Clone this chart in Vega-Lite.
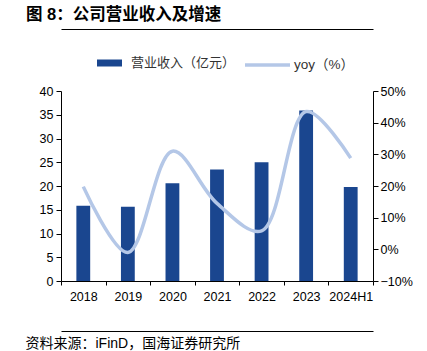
{
  "$schema": "https://vega.github.io/schema/vega-lite/v6.json",
  "width": 312,
  "height": 190,
  "autosize": "none",
  "padding": {"left": 61, "top": 91, "right": 54, "bottom": 70},
  "background": "white",
  "config": {
    "view": {"stroke": null},
    "axis": {"grid": false, "domainColor": "#000", "tickColor": "#000", "labelFont": "Liberation Sans", "labelFontSize": 12.5, "labelColor": "#000"}
  },
  "title": {
    "text": "图 8：公司营业收入及增速",
    "anchor": "start",
    "frame": "group",
    "dx": -35,
    "offset": 6,
    "font": "Liberation Sans, Noto Sans CJK SC",
    "fontSize": 16.5,
    "fontWeight": "bold",
    "color": "#000"
  },
  "data": {
    "values": [
      {"year": "2018", "revenue": 15.85, "yoy": 19.8},
      {"year": "2019", "revenue": 15.65, "yoy": -1.0},
      {"year": "2020", "revenue": 20.6, "yoy": 31.0},
      {"year": "2021", "revenue": 23.5, "yoy": 14.5},
      {"year": "2022", "revenue": 25.0, "yoy": 5.8},
      {"year": "2023", "revenue": 35.9, "yoy": 43.5},
      {"year": "2024H1", "revenue": 19.8, "yoy": 28.8}
    ]
  },
  "layer": [
    {
      "mark": {"type": "bar", "width": {"band": 0.31}},
      "encoding": {
        "x": {"field": "year", "type": "nominal", "sort": null, "scale": {"paddingInner": 0, "paddingOuter": 0},
          "axis": {"orient": "bottom", "title": null, "labelAngle": 0, "tickBand": "extent", "tickSize": 4, "labelPadding": 5}},
        "y": {"field": "revenue", "type": "quantitative", "scale": {"domain": [0, 40]},
          "axis": {"values": [0, 5, 10, 15, 20, 25, 30, 35, 40], "title": null, "tickSize": 5, "labelPadding": 3}},
        "fill": {"datum": "营业收入（亿元）", "scale": {"range": ["#1a468f"]},
          "legend": {"orient": "none", "legendX": 36, "legendY": -40.5, "title": null, "symbolType": "M-1,-0.28H1V0.28H-1Z", "symbolSize": 625, "symbolStrokeWidth": 0, "labelFont": "Noto Sans CJK SC", "labelFontSize": 13, "labelColor": "#333", "labelOffset": 9}}
      }
    },
    {
      "mark": {"type": "line", "interpolate": "catmull-rom", "strokeWidth": 3.5},
      "encoding": {
        "x": {"field": "year", "type": "nominal", "sort": null,
          "axis": {"orient": "top", "offset": 62, "labels": false, "ticks": false, "title": null}},
        "y": {"field": "yoy", "type": "quantitative", "scale": {"domain": [-10, 50]},
          "axis": {"orient": "right", "values": [-10, 0, 10, 20, 30, 40, 50], "labelExpr": "datum.label + '%'", "title": null, "tickSize": 5, "labelPadding": 2}},
        "stroke": {"datum": "yoy（%）", "scale": {"range": ["#b4c7e7"]},
          "legend": {"orient": "none", "legendX": 182, "legendY": -50.5, "title": null, "symbolType": "stroke", "symbolSize": 2025, "symbolStrokeWidth": 3.5, "labelFont": "Liberation Sans, Noto Sans CJK SC", "labelFontSize": 13.5, "labelColor": "#333", "labelOffset": 2}}
      }
    },
    {
      "mark": {"type": "bar", "opacity": 0},
      "encoding": {
        "x": {"field": "year", "type": "nominal", "sort": null,
          "axis": {"orient": "bottom", "offset": 50, "labels": false, "ticks": false, "title": "资料来源：iFinD，国海证券研究所", "titleX": -36, "titleY": 12, "titleAlign": "left", "titleBaseline": "middle", "titleFont": "Liberation Sans, Noto Sans CJK SC", "titleFontSize": 14, "titleFontWeight": "normal", "titleColor": "#000"}},
        "y": {"field": "revenue", "type": "quantitative", "axis": null}
      }
    }
  ],
  "resolve": {"scale": {"y": "independent"}, "axis": {"x": "independent", "y": "independent"}}
}
